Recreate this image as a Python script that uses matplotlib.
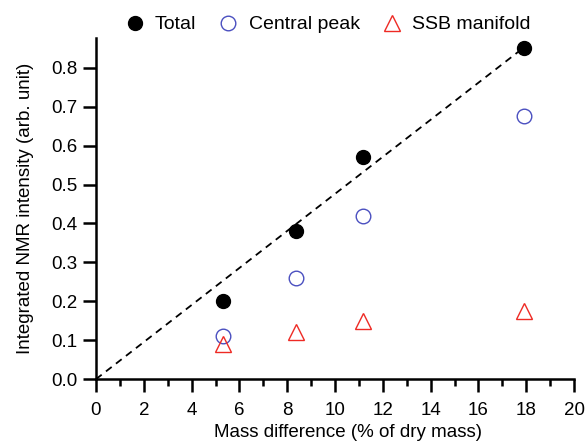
import matplotlib
matplotlib.use("Agg")
import matplotlib.pyplot as plt
from matplotlib.ticker import MultipleLocator

plt.rcParams['font.family'] = ['Liberation Sans', 'DejaVu Sans']

# data
mass_diff = [5.3, 8.35, 11.15, 17.9]
total = [0.20, 0.38, 0.57, 0.85]
central = [0.112, 0.26, 0.42, 0.675]
ssb = [0.09, 0.12, 0.15, 0.175]
fit_x = [0, 18]
fit_y = [0, 0.857]

fig = plt.figure(figsize=(5.87, 4.45), dpi=100)
ax = fig.add_axes([0.1635, 0.148, 0.8145, 0.767])

ax.plot(fit_x, fit_y, '--', color='black', lw=1.3, dashes=(4, 3))
ax.plot(mass_diff, total, 'o', color='black', ms=10, label='Total', linestyle='none')
ax.plot(mass_diff, central, 'o', mfc='none', mec='#4a4fc0', mew=1.0, ms=10.5,
        label='Central peak', linestyle='none')
ax.plot(mass_diff, ssb, '^', mfc='none', mec='#ee2a24', mew=1.0, ms=12,
        label='SSB manifold', linestyle='none')

ax.set_xlim(0, 20)
ax.set_ylim(0, 0.877)
ax.xaxis.set_major_locator(MultipleLocator(2))
ax.xaxis.set_minor_locator(MultipleLocator(1))
ax.yaxis.set_major_locator(MultipleLocator(0.1))
ax.yaxis.set_major_formatter(plt.FormatStrFormatter('%.1f'))

for side in ('top', 'right'):
    ax.spines[side].set_visible(False)
for side in ('left', 'bottom'):
    ax.spines[side].set_linewidth(1.8)
ax.tick_params(which='major', direction='out', length=9.5, width=1.8, labelsize=13.5)
ax.tick_params(axis='x', which='major', pad=7)
ax.tick_params(axis='y', which='major', pad=4)
ax.tick_params(which='minor', direction='out', length=5, width=1.8)

ax.set_xlabel('Mass difference (% of dry mass)', fontsize=13.5)
ax.xaxis.set_label_coords(0.527, -0.132)
ax.set_ylabel('Integrated NMR intensity (arb. unit)', fontsize=13.5, labelpad=12)

ax.legend(loc='lower center', bbox_to_anchor=(0.48, 0.99), ncol=3, frameon=False,
          fontsize=14, handletextpad=0.3, columnspacing=0.9, borderaxespad=0,
          handlelength=1.5)

fig.savefig('out.png', dpi=100)
